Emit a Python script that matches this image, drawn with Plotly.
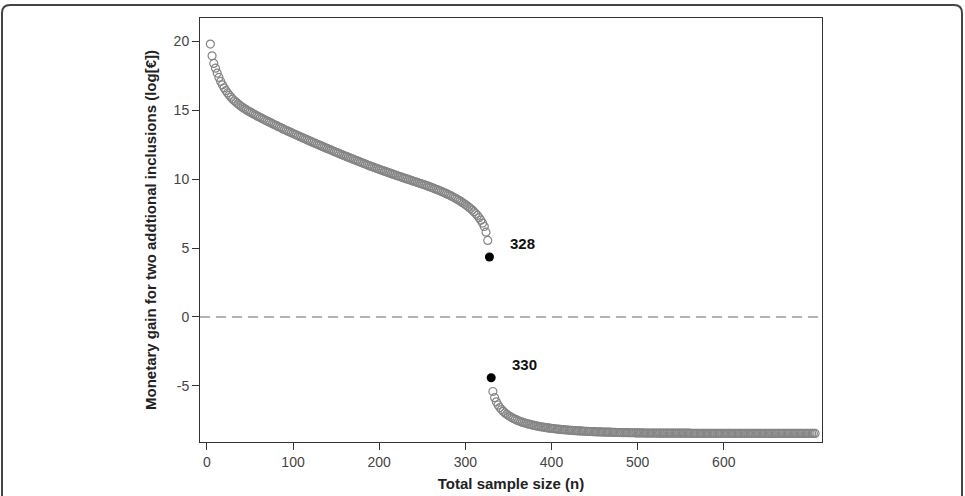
import plotly.graph_objects as go

# ---------------- data ----------------
n_upper = list(range(4, 328, 2))
gain_upper = [
    19.78, 18.93, 18.38, 18.03, 17.68, 17.36, 17.07, 16.83, 16.61, 16.41,
    16.24, 16.08, 15.93, 15.79, 15.67, 15.56, 15.45, 15.35, 15.25, 15.17,
    15.09, 15.01, 14.93, 14.86, 14.79, 14.72, 14.65, 14.58, 14.52, 14.45,
    14.39, 14.33, 14.26, 14.20, 14.14, 14.08, 14.01, 13.95, 13.89, 13.83,
    13.77, 13.71, 13.65, 13.59, 13.53, 13.47, 13.42, 13.36, 13.30, 13.24,
    13.19, 13.13, 13.07, 13.02, 12.96, 12.91, 12.85, 12.80, 12.74, 12.69,
    12.63, 12.58, 12.52, 12.47, 12.42, 12.36, 12.31, 12.25, 12.20, 12.15,
    12.10, 12.04, 11.99, 11.94, 11.89, 11.84, 11.78, 11.73, 11.68, 11.63,
    11.58, 11.53, 11.48, 11.43, 11.38, 11.33, 11.28, 11.23, 11.18, 11.13,
    11.08, 11.03, 10.98, 10.93, 10.89, 10.84, 10.79, 10.75, 10.70, 10.66,
    10.61, 10.57, 10.53, 10.48, 10.44, 10.39, 10.35, 10.31, 10.26, 10.22,
    10.18, 10.14, 10.09, 10.05, 10.01, 9.97, 9.93, 9.88, 9.84, 9.80,
    9.76, 9.71, 9.67, 9.63, 9.59, 9.54, 9.50, 9.45, 9.41, 9.36,
    9.31, 9.26, 9.21, 9.16, 9.11, 9.05, 9.00, 8.94, 8.88, 8.82,
    8.76, 8.69, 8.62, 8.55, 8.48, 8.40, 8.32, 8.24, 8.15, 8.06,
    7.96, 7.86, 7.75, 7.63, 7.50, 7.36, 7.20, 7.02, 6.81, 6.56,
    6.15, 5.55,
]

n_lower = list(range(332, 708, 2))
gain_lower = [
    -5.40, -5.85, -6.15, -6.38, -6.56, -6.71, -6.84, -6.95, -7.05, -7.14,
    -7.22, -7.29, -7.36, -7.42, -7.48, -7.53, -7.58, -7.62, -7.66, -7.70,
    -7.74, -7.77, -7.80, -7.83, -7.86, -7.89, -7.91, -7.94, -7.96, -7.98,
    -8.00, -8.02, -8.04, -8.06, -8.07, -8.09, -8.10, -8.12, -8.13, -8.14,
    -8.16, -8.17, -8.18, -8.19, -8.20, -8.21, -8.22, -8.23, -8.24, -8.25,
    -8.26, -8.26, -8.27, -8.28, -8.28, -8.29, -8.30, -8.30, -8.31, -8.31,
    -8.32, -8.32, -8.33, -8.33, -8.34, -8.34, -8.35, -8.35, -8.35, -8.36,
    -8.36, -8.36, -8.37, -8.37, -8.37, -8.38, -8.38, -8.38, -8.38, -8.39,
    -8.39, -8.39, -8.39, -8.40, -8.40, -8.40, -8.40, -8.40, -8.41, -8.41,
    -8.41, -8.41, -8.41, -8.41, -8.41, -8.41, -8.42, -8.42, -8.42, -8.42,
    -8.42, -8.42, -8.42, -8.42, -8.42, -8.42, -8.42, -8.42, -8.42, -8.42,
    -8.42, -8.42, -8.42, -8.42, -8.42, -8.43, -8.43, -8.43, -8.43, -8.43,
    -8.43, -8.43, -8.43, -8.43, -8.43, -8.43, -8.43, -8.43, -8.43, -8.43,
    -8.43, -8.43, -8.43, -8.43, -8.43, -8.43, -8.43, -8.43, -8.43, -8.43,
    -8.43, -8.43, -8.43, -8.43, -8.43, -8.43, -8.43, -8.43, -8.43, -8.43,
    -8.43, -8.43, -8.43, -8.43, -8.43, -8.43, -8.43, -8.43, -8.43, -8.43,
    -8.44, -8.44, -8.44, -8.44, -8.44, -8.44, -8.44, -8.44, -8.44, -8.44,
    -8.44, -8.44, -8.44, -8.44, -8.44, -8.44, -8.44, -8.44, -8.44, -8.44,
    -8.44, -8.44, -8.44, -8.44, -8.44, -8.44, -8.44, -8.44,
]

n_marked = [328, 330]
gain_marked = [4.35, -4.40]
marked_labels = ["328", "330"]

x_ticks = [0, 100, 200, 300, 400, 500, 600]
x_tick_labels = ["0", "100", "200", "300", "400", "500", "600"]
y_ticks = [-5, 0, 5, 10, 15, 20]
y_tick_labels = ["-5", "0", "5", "10", "15", "20"]

x_title = "Total sample size (n)"
y_title = "Monetary gain for two addtional inclusions (log[\u20ac])"

# ---------------- figure ----------------
W, H = 965, 496
ML, MR, MT, MB = 200, 143, 18, 54
PW, PH = W - ML - MR, H - MT - MB
FONT = "Liberation Sans, Arial, sans-serif"

open_marker = dict(symbol="circle-open", size=8, color="#858585",
                   line=dict(width=1.2, color="#858585"))

fig = go.Figure()
fig.add_trace(go.Scatter(x=n_upper, y=gain_upper[:len(n_upper)], mode="markers",
                         marker=open_marker, showlegend=False, hoverinfo="x+y"))
fig.add_trace(go.Scatter(x=n_lower, y=gain_lower[:len(n_lower)], mode="markers",
                         marker=open_marker, showlegend=False, hoverinfo="x+y"))
fig.add_trace(go.Scatter(x=n_marked, y=gain_marked, mode="markers",
                         marker=dict(symbol="circle", size=9, color="black"),
                         showlegend=False, hoverinfo="x+y"))

for xv, yv, lab in zip(n_marked, gain_marked, marked_labels):
    fig.add_annotation(x=xv, y=yv, text="<b>%s</b>" % lab, showarrow=False,
                       xshift=33, yshift=13,
                       font=dict(family=FONT, size=15, color="#111"))

# dashed zero line
fig.add_shape(type="line", xref="paper", yref="y", x0=0, x1=1, y0=0, y1=0,
              line=dict(color="#9a9a9a", width=1.5, dash="10px,6px"), layer="below")

# outer rounded frame (pixel -> paper conversion)
def px(xp):
    return (xp - ML) / PW

def py(yp):
    return (H - MB - yp) / PH

r = 8
L, R_, T, B = 2, 962, 5, 505
path = (f"M {px(L)},{py(B)} L {px(L)},{py(T + r)} Q {px(L)},{py(T)} {px(L + r)},{py(T)} "
        f"L {px(R_ - r)},{py(T)} Q {px(R_)},{py(T)} {px(R_)},{py(T + r)} L {px(R_)},{py(B)}")
fig.add_shape(type="path", xref="paper", yref="paper", path=path,
              line=dict(color="#444444", width=2))

axis_common = dict(showline=True, mirror=True, linecolor="#333333", linewidth=1,
                   ticks="outside", ticklen=7, tickcolor="#333333", tickwidth=1,
                   showgrid=False, zeroline=False, automargin=False,
                   tickfont=dict(family=FONT, size=14, color="#444444"))

fig.update_layout(
    width=W, height=H,
    margin=dict(l=ML, r=MR, t=MT, b=MB, autoexpand=False),
    paper_bgcolor="white", plot_bgcolor="white",
    xaxis=dict(range=[-8, 714], tickvals=x_ticks, ticktext=x_tick_labels, **axis_common,
               title=dict(text="<b>%s</b>" % x_title, standoff=9,
                          font=dict(family=FONT, size=15, color="#222222"))),
    yaxis=dict(range=[-9.06, 21.67], tickvals=y_ticks, ticktext=y_tick_labels, **axis_common,
               title=dict(text="<b>%s</b>" % y_title, standoff=13,
                          font=dict(family=FONT, size=15, color="#222222"))),
)

fig.write_html("out.html")
